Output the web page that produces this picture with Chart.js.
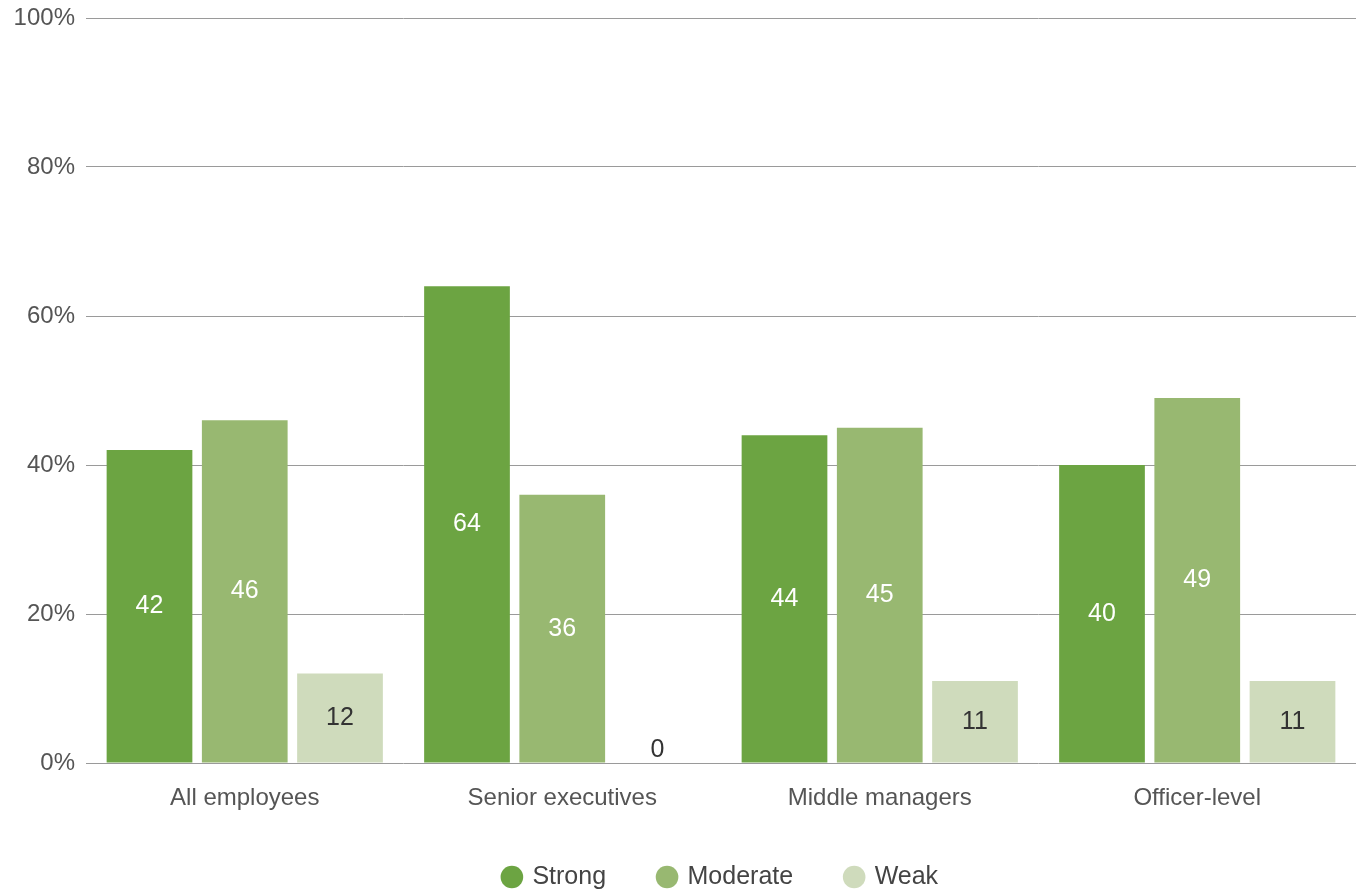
<!doctype html>
<html>
<head>
  <title>Bar chart</title>
  <script src="https://cdn.jsdelivr.net/npm/chart.js@4.4.1/dist/chart.umd.min.js"></script>
  <style>
    html, body { margin: 0; padding: 0; background: #fff; }
    .chart { width: 1364px; height: 893px; }
  </style>
</head>
<body>
  <div class="chart">
    <canvas id="myChart"></canvas>
  </div>
  <script>
    var categories = ['All employees', 'Senior executives', 'Middle managers', 'Officer-level'];
    var strong = [42, 64, 44, 40];
    var moderate = [46, 36, 45, 49];
    var weak = [12, 0, 11, 11];

    var chartColors = {
      strong: '#6ca442',
      moderate: '#98b871',
      weak: '#cfdbbc'
    };

    var fontFamily = '"Liberation Sans", Arial, sans-serif';

    // value labels centred in each bar
    var barLabels = {
      id: 'barLabels',
      afterDatasetsDraw: function(chart) {
        var ctx = chart.ctx;
        ctx.save();
        ctx.font = '25px ' + fontFamily;
        ctx.textAlign = 'center';
        ctx.textBaseline = 'middle';
        chart.data.datasets.forEach(function(dataset, i) {
          var meta = chart.getDatasetMeta(i);
          meta.data.forEach(function(bar, j) {
            var v = dataset.data[j];
            var y = (bar.y + bar.base) / 2;
            if (v === 0) y = bar.base - 13;
            ctx.fillStyle = i === 2 ? '#333333' : '#ffffff';
            ctx.fillText(String(v), bar.x, y);
          });
        });
        ctx.restore();
      }
    };

    var config = {
      type: 'bar',
      data: {
        labels: categories,
        datasets: [{
          label: 'Strong',
          backgroundColor: chartColors.strong,
          data: strong
        }, {
          label: 'Moderate',
          backgroundColor: chartColors.moderate,
          data: moderate
        }, {
          label: 'Weak',
          backgroundColor: chartColors.weak,
          data: weak
        }]
      },
      options: {
        responsive: true,
        maintainAspectRatio: false,
        animation: false,
        layout: {
          padding: { top: 18, right: 8, left: 0, bottom: -6.5 }
        },
        datasets: {
          bar: {
            categoryPercentage: 0.9,
            barPercentage: 0.9
          }
        },
        scales: {
          x: {
            grid: { display: false, drawTicks: false, tickLength: 0 },
            border: { display: false },
            ticks: {
              color: '#555555',
              padding: 23,
              maxRotation: 0,
              font: { family: fontFamily, size: 24, lineHeight: 1 }
            },
            afterFit: function(scale) {
              scale.height = 48.5;
            }
          },
          y: {
            min: 0,
            max: 100,
            border: { display: false },
            grid: {
              color: '#9a9a9a',
              lineWidth: 1,
              drawTicks: false
            },
            ticks: {
              stepSize: 20,
              color: '#555555',
              padding: 11,
              font: { family: fontFamily, size: 24 },
              callback: function(v) { return v + '%'; }
            },
            afterFit: function(scale) {
              scale.width = 86;
              scale.paddingTop = 0;
              scale.paddingBottom = 0;
            }
          }
        },
        plugins: {
          legend: {
            position: 'bottom',
            fullSize: false,
            labels: {
              usePointStyle: true,
              pointStyle: 'circle',
              boxWidth: 16,
              boxHeight: 16,
              padding: 53,
              color: '#444444',
              font: { family: fontFamily, size: 25 }
            }
          },
          tooltip: { enabled: false }
        }
      },
      plugins: [barLabels]
    };

    window.onload = function() {
      var ctx = document.getElementById('myChart').getContext('2d');
      window.myChart = new Chart(ctx, config);
    };
  </script>
</body>
</html>
